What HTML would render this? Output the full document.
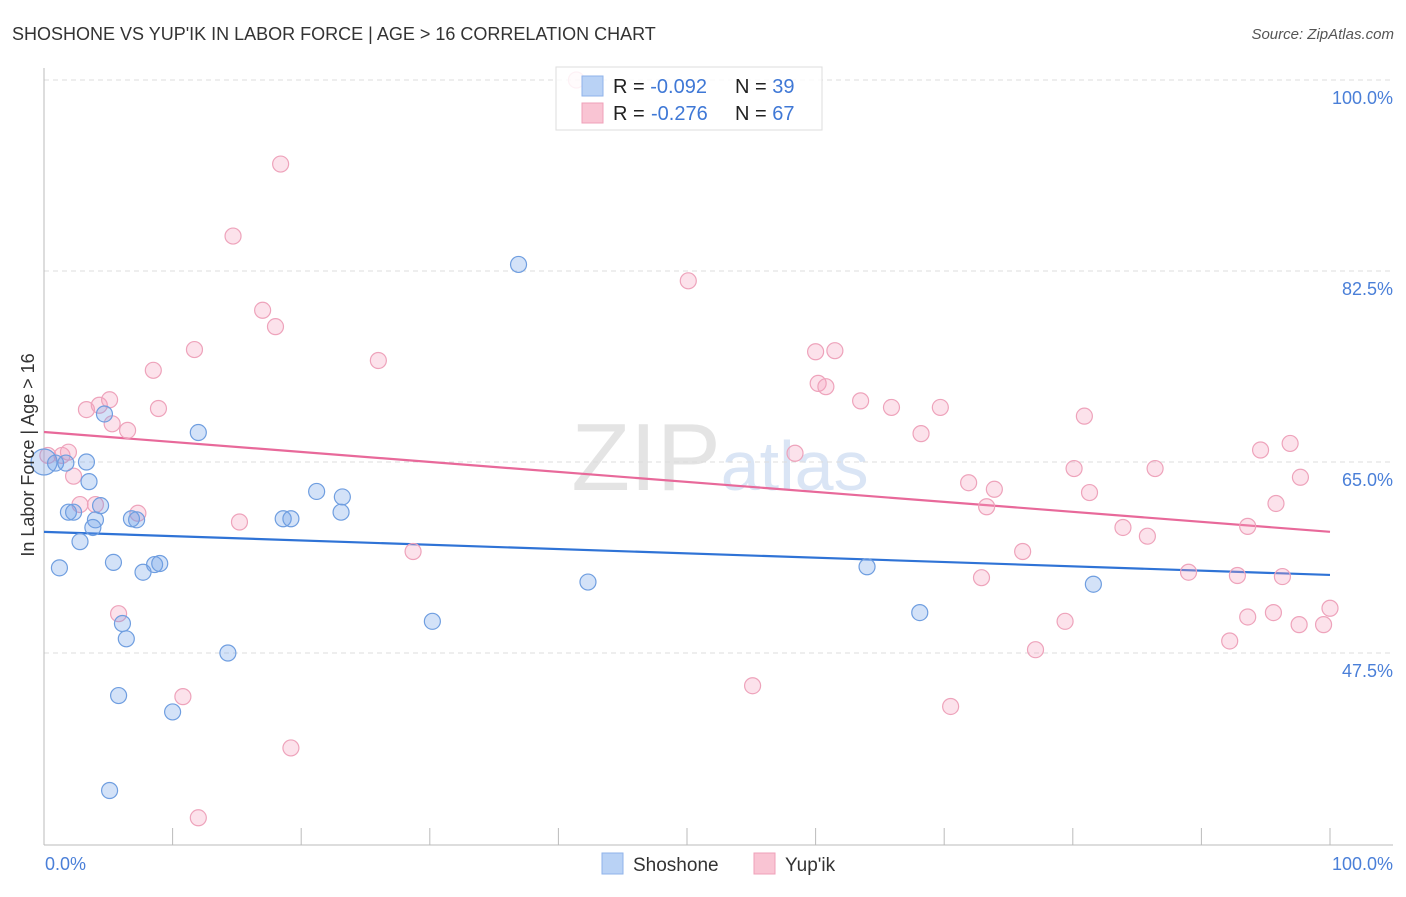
<!DOCTYPE html>
<html><head><meta charset="utf-8"><style>
body{margin:0;background:#fff;font-family:"Liberation Sans",sans-serif;}
svg text{font-family:"Liberation Sans",sans-serif;}
</style></head><body>
<svg id="chart" width="1406" height="892">
<text x="12" y="40" font-size="18" fill="#333">SHOSHONE VS YUP'IK IN LABOR FORCE | AGE &gt; 16 CORRELATION CHART</text>
<text x="1394" y="39" font-size="15" fill="#555" font-style="italic" text-anchor="end">Source: ZipAtlas.com</text>
<text x="720" y="490" font-size="96" fill="#e4e4e4" text-anchor="middle" font-family="Liberation Serif">ZIP<tspan fill="#dae5f5" font-family="Liberation Sans" font-size="70">atlas</tspan></text>
<g id="grid"></g><g id="axes"></g><g id="trends"></g><g id="pts"></g>
<text x="34" y="455" font-size="18" fill="#333" text-anchor="middle" transform="rotate(-90 34 455)">In Labor Force | Age &gt; 16</text>
<text x="45" y="870" font-size="18" fill="#4a7fd8">0.0%</text>
<text x="1393" y="870" font-size="18" fill="#4a7fd8" text-anchor="end">100.0%</text>
<g>
<rect x="556" y="67" width="266" height="63" fill="#fff" fill-opacity="0.85" stroke="#ddd"/>
<rect x="582" y="76" width="21" height="20" fill="#b9d2f5" stroke="#8fb3ea"/>
<rect x="582" y="103" width="21" height="20" fill="#f9c4d3" stroke="#efa0b8"/>
<text x="613" y="93" font-size="20" fill="#222">R = <tspan fill="#3f78d6">-0.092</tspan><tspan x="735">N = </tspan><tspan fill="#3f78d6">39</tspan></text>
<text x="613" y="120" font-size="20" fill="#222">R = <tspan fill="#3f78d6" x="651">-0.276</tspan><tspan x="735">N = </tspan><tspan fill="#3f78d6">67</tspan></text>
</g>
<g>
<rect x="602" y="853" width="21" height="21" fill="#b9d2f5" stroke="#8fb3ea"/>
<text x="633" y="871" font-size="19" fill="#333">Shoshone</text>
<rect x="754" y="853" width="21" height="21" fill="#f9c4d3" stroke="#efa0b8"/>
<text x="785" y="871" font-size="19" fill="#333">Yup'ik</text>
</g>
</svg>
<script>
const yTicks=[100,82.5,65,47.5];
const yTickLabels=["100.0%","82.5%","65.0%","47.5%"];
const xTicks=[10,20,30,40,50,60,70,80,90,100];
const shoX=[0,0.9,1.7,3.3,3.5,4.7,1.9,2.3,4.4,4.0,3.8,2.8,1.2,5.4,6.8,7.2,7.7,8.6,9.0,12.0,6.1,6.4,5.8,10.0,5.1,14.3,18.6,19.2,21.2,23.2,23.1,36.9,30.2,42.3,64.0,68.1,81.6];
const shoY=[65.0,64.9,64.9,65.0,63.2,69.4,60.4,60.4,61.0,59.7,59.0,57.7,55.3,55.8,59.8,59.7,54.9,55.6,55.7,67.7,50.2,48.8,43.6,42.1,34.9,47.5,59.8,59.8,62.3,61.8,60.4,83.1,50.4,54.0,55.4,51.2,53.8];
const yupX=[0.3,1.4,1.9,2.3,2.8,4.0,3.3,4.3,5.1,5.3,6.5,7.3,5.8,8.5,8.9,11.7,14.7,18.4,17.0,18.0,15.2,10.8,19.2,12.0,26.0,28.7,41.4,50.1,55.1,58.4,60.0,61.5,60.2,60.8,63.5,65.9,68.2,69.7,71.9,73.3,73.9,72.9,70.5,76.1,77.1,79.4,80.1,81.3,80.9,83.9,85.8,86.4,89.0,92.2,92.8,93.6,93.6,94.6,95.8,95.6,96.3,96.9,97.7,97.6,99.5,100];
const yupY=[65.6,65.6,65.9,63.7,61.1,61.1,69.8,70.2,70.7,68.5,67.9,60.3,51.1,73.4,69.9,75.3,85.7,92.3,78.9,77.4,59.5,43.5,38.8,32.4,74.3,56.8,100,81.6,44.5,65.8,75.1,75.2,72.2,71.9,70.6,70.0,67.6,70.0,63.1,60.9,62.5,54.4,42.6,56.8,47.8,50.4,64.4,62.2,69.2,59.0,58.2,64.4,54.9,48.6,54.6,50.8,59.1,66.1,61.2,51.2,54.5,66.7,63.6,50.1,50.1,51.6];
const shoTrend=[58.6,54.65];
const yupTrend=[67.75,58.6];
const NS="http://www.w3.org/2000/svg";
const X=v=>44+v*12.86, Y=v=>80+(100-v)*10.914;
function mk(tag,attrs,parent){const e=document.createElementNS(NS,tag);for(const k in attrs)e.setAttribute(k,attrs[k]);document.getElementById(parent).appendChild(e);return e;}
yTicks.forEach((t,i)=>{
 const l=mk('line',{x1:44,x2:1393,y1:Y(t),y2:Y(t),stroke:'#ddd','stroke-dasharray':'5,4'},'grid');
 
 
 const tx=mk('text',{x:1393,y:Y(t)+24,'font-size':18,fill:'#4a7fd8','text-anchor':'end'},'grid');
 tx.textContent=yTickLabels[i];
 
 
});
let a=mk('line',{x1:44,x2:44,y1:68,y2:845,stroke:'#bbb'},'axes');


a=mk('line',{x1:44,x2:1393,y1:845,y2:845,stroke:'#bbb'},'axes');


xTicks.forEach(t=>{const l=mk('line',{x1:X(t),x2:X(t),y1:828,y2:845,stroke:'#bbb'},'axes');
 
 });
function pts(xs,ys,fill,stroke,name){xs.forEach((x,i)=>{const c=mk('circle',{cx:X(x),cy:Y(ys[i]),r:(name==='shoshone-point'&&i===0)?13:8,fill:fill,stroke:stroke,'stroke-width':1.2},'pts');
 
 });}
pts(yupX,yupY,'rgba(244,160,190,0.3)','#eea3bb','yupik-point');
pts(shoX,shoY,'rgba(110,160,232,0.3)','#6f9ee0','shoshone-point');
let t=mk('line',{x1:X(0),x2:X(100),y1:Y(shoTrend[0]),y2:Y(shoTrend[1]),stroke:'#2f73d6','stroke-width':2.2},'trends');


t=mk('line',{x1:X(0),x2:X(100),y1:Y(yupTrend[0]),y2:Y(yupTrend[1]),stroke:'#e8699a','stroke-width':2.2},'trends');


</script>
</body></html>
